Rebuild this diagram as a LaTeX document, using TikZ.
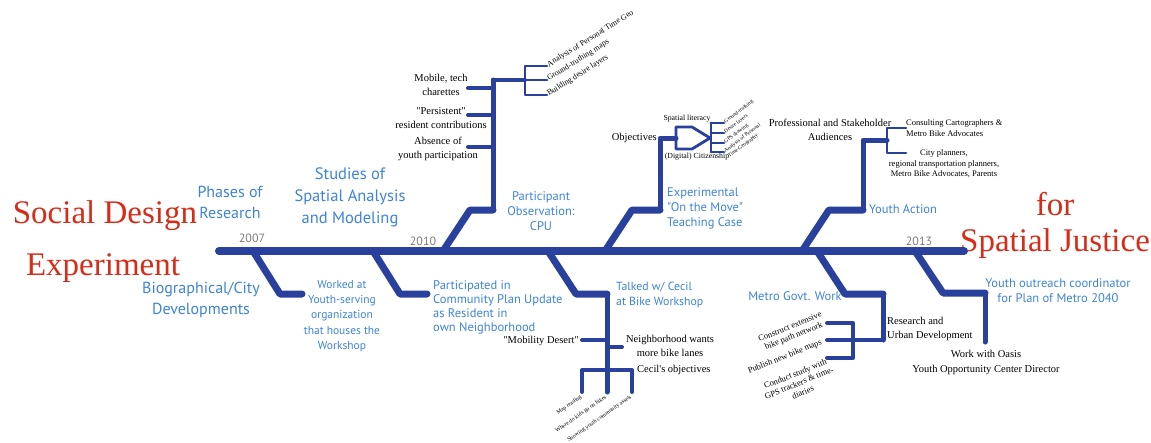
\documentclass[tikz,border=0pt]{standalone}
\usepackage{fontspec}
\setmainfont{Liberation Serif}[Ligatures=TeXOff]
\newfontfamily\ptsans{PT Sans}
\usetikzlibrary{positioning}
\definecolor{bonecol}{RGB}{41,64,156}
\definecolor{phasecol}{RGB}{62,132,218}
\definecolor{titlecol}{RGB}{214,44,24}
\definecolor{yearcol}{RGB}{125,125,125}
\tikzset{spine/.style={line width=8pt, draw=bonecol, line cap=round, line join=round},
         bone/.style={line width=7pt, draw=bonecol, line cap=round, line join=round},
         stem/.style={line width=5pt, draw=bonecol, line cap=round, line join=round},
         twig/.style={line width=4pt, draw=bonecol, line cap=round, line join=round},
         sprig/.style={line width=2.8pt, draw=bonecol, line cap=round, line join=round},
         headline/.style={text=titlecol, inner sep=0pt, font=\fontsize{33}{36}\selectfont},
         phase/.style={text=phasecol, inner sep=0pt, align=center, font=\ptsans\fontsize{16}{21}\selectfont},
         event/.style={text=phasecol, inner sep=0pt, align=center, font=\ptsans\fontsize{12.5}{15}\selectfont},
         yearlbl/.style={text=yearcol, inner sep=0pt, font=\ptsans\fontsize{12}{14}\selectfont},
         note/.style={inner sep=0pt, align=center, font=\fontsize{10.5}{14}\selectfont},
         smallnote/.style={inner sep=0pt, align=center, font=\fontsize{8.5}{10.5}\selectfont},
         leaf/.style={inner sep=1pt, align=center, font=\fontsize{8}{9.5}\selectfont},
         tinynote/.style={inner sep=1pt, align=left, font=\fontsize{5.7}{6.7}\selectfont}}

\begin{document}
\begin{tikzpicture}[x=1pt, y=-1pt]
\fill[white] (0,0) rectangle (1151,442);
\useasboundingbox (0,0) rectangle (1151,442);

\node[headline] (social) at (105,216) {Social Design};
\node[headline] (experiment) at (103,268) {Experiment};
\node[headline] (for) at (1055,204) {for};
\node[headline] (justice) at (1055,244) {Spatial Justice};

\coordinate (s0) at (219,251);
\coordinate (s1) at (964,251);
\draw[spine] (s0) -- (s1);
\node[yearlbl] (y2007) at (252,238) {2007};
\node[yearlbl] (y2010) at (423,241) {2010};
\node[yearlbl] (y2013) at (919,241) {2013};

\node[phase] (phases) at (230,202) {Phases of\\Research};
\node[phase, font=\ptsans\fontsize{16.5}{22}\selectfont] (studies) at (350,197) {Studies of\\Spatial Analysis\\and Modeling};
\node[phase] (bio) at (201,300) {Biographical/City\\Developments};

% upper bones
\coordinate (a0) at (443,251);
\coordinate (a1) at (470,210);
\coordinate (a2) at (493,210);
\coordinate (a3) at (493,80);
\coordinate (a4) at (525,80);
\draw[bone] (a0) -- (a1) -- (a2);
\draw[stem] (a2) -- (a3);
\draw[twig] (a3) -- (a4);
\coordinate (a5) at (547,66);
\coordinate (a6) at (547,80);
\coordinate (a7) at (547,95);
\draw[sprig] (a5) -| (a4) |- (a7);
\draw[sprig] (a4) -- (a6);
\node[leaf, rotate=32, anchor=west] (geo) at (a5) {Analysis of Personal Time Geo};
\node[leaf, rotate=32, anchor=west] (truth) at (a6) {Ground-truthing maps};
\node[leaf, rotate=32, anchor=west] (desire) at (a7) {Building desire layers};
\coordinate (t1) at (468,88);
\coordinate (t2) at (468,115);
\coordinate (t3) at (468,147);
\draw[twig] (t1) -- (a3 |- t1);
\draw[twig] (t2) -- (a3 |- t2);
\draw[twig] (t3) -- (a3 |- t3);
\node[note] (mobile) at (441,85) {Mobile, tech\\charettes};
\node[note] (persist) at (441,118) {"Persistent"\\resident contributions};
\node[note] (absence) at (438,149) {Absence of\\youth participation};
\node[event] (cpu) at (541,211) {Participant\\Observation:\\CPU};

\coordinate (b0) at (605,251);
\coordinate (b1) at (632,210);
\coordinate (b2) at (660,210);
\coordinate (b3) at (660,138);
\coordinate (b4) at (676,138);
\draw[bone] (b0) -- (b1) -- (b2);
\draw[stem] (b2) -- (b3) -- (b4);
\draw[sprig] (b4) ++(0,-11) -- ++(16,0) -- ++(18,11) -- ++(-18,11) -- ++(-16,0) -- cycle;
\draw[sprig] (711,123) -- (711,152);
\foreach \yy/\txt [count=\i] in {123/Ground-truthing, 133/Desire layers, 143/GPS drawing, 152/Analysis of Personal} {
  \coordinate (obj\i) at (724,\yy);
  \draw[sprig] (711,\yy) -- (obj\i);
  \node[tinynote, font=\fontsize{5.3}{6}\selectfont, rotate=37, anchor=west] (objl\i) at (obj\i) {\txt};
}
\node[tinynote, font=\fontsize{5.3}{6}\selectfont, rotate=37, anchor=west, yshift=-6.5pt] (geography) at (obj4) {Time Geography};
\node[note, anchor=east] (objectives) at (657,138) {Objectives};
\node[smallnote, font=\fontsize{7.8}{9}\selectfont] (literacy) at (687,119) {Spatial literacy};
\node[smallnote, font=\fontsize{7.8}{9}\selectfont] (citizen) at (697,157) {(Digital) Citizenship};
\node[event, anchor=west, align=left] (move) at (667,208) {Experimental\\"On the Move"\\Teaching Case};

\coordinate (c0) at (802,251);
\coordinate (c1) at (829,210);
\coordinate (c2) at (863,210);
\coordinate (c3) at (863,140);
\coordinate (c4) at (887,140);
\coordinate (c5) at (906,128);
\coordinate (c6) at (906,153);
\draw[bone] (c0) -- (c1) -- (c2);
\draw[stem] (c2) -- (c3) -- (c4);
\draw[sprig] (c5) -| (c4) |- (c6);
\node[note] (audience) at (830,130) {Professional and Stakeholder\\Audiences};
\node[smallnote, anchor=west, align=left] (consult) at (906,128) {Consulting Cartographers \&\\Metro Bike Advocates};
\node[smallnote] (planners) at (944,164) {City planners,\\regional transportation planners,\\Metro Bike Advocates, Parents};
\node[event, anchor=west] (action) at (869,209) {Youth Action};

% lower bones
\coordinate (d0) at (253,251);
\coordinate (d1) at (280,294);
\coordinate (d2) at (302,294);
\draw[bone] (d0) -- (d1) -- (d2);
\node[event, font=\ptsans\fontsize{11.5}{15.3}\selectfont] (worked) at (342,316) {Worked at\\Youth-serving\\organization\\that houses the\\Workshop};

\coordinate (e0) at (373,251);
\coordinate (e1) at (400,294);
\coordinate (e2) at (427,294);
\draw[bone] (e0) -- (e1) -- (e2);
\node[event, anchor=west, align=left, font=\ptsans\fontsize{12.5}{14}\selectfont] (community) at (433,307) {Participated in\\Community Plan Update\\as Resident in\\own Neighborhood};

\coordinate (f0) at (548,251);
\coordinate (f1) at (576,294);
\coordinate (f2) at (607,294);
\coordinate (f3) at (607,392);
\draw[bone] (f0) -- (f1) -- (f2);
\draw[stem] (f2) -- (f3);
\coordinate (f4) at (582,340);
\coordinate (f5) at (622,347);
\coordinate (f6) at (582,392);
\coordinate (f7) at (632,392);
\coordinate (f8) at (607,370);
\draw[twig] (f4) -- (f2 |- f4);
\draw[twig] (f2 |- f5) -- (f5);
\draw[twig] (f6) |- (f8) -| (f7);
\node[note, anchor=east] (desert) at (579,341) {"Mobility Desert"};
\node[note] (lanes) at (670,346) {Neighborhood wants\\more bike lanes};
\node[note, anchor=west] (cecilobj) at (637,370) {Cecil's objectives};
\node[tinynote, yshift=-4pt, rotate=35, anchor=east] (mapread) at (f6) {Map reading};
\node[tinynote, yshift=-4pt, rotate=35, anchor=east] (kids) at (f3) {Where do kids go on bikes};
\node[tinynote, yshift=-4pt, rotate=35, anchor=east] (assets) at (f7) {Showing youth community assets};
\node[event, anchor=west, align=left, font=\ptsans\fontsize{11.8}{15}\selectfont] (cecil) at (616,295) {Talked w/ Cecil\\at Bike Workshop};

\coordinate (g0) at (817,251);
\coordinate (g1) at (845,294);
\coordinate (g2) at (883,294);
\coordinate (g3) at (883,340);
\coordinate (g4) at (853,340);
\coordinate (g5) at (827,323);
\coordinate (g6) at (827,358);
\coordinate (g7) at (827,340);
\draw[bone] (g0) -- (g1) -- (g2);
\draw[stem] (g2) -- (g3);
\draw[twig] (g3) -- (g4);
\draw[twig] (g5) -| (g4) |- (g6);
\draw[twig] (g4) -- (g7);
\node[leaf, rotate=22, font=\fontsize{8.5}{10}\selectfont] (construct) at (792,332) {Construct extensive\\bike path network};
\node[leaf, rotate=22, font=\fontsize{8.5}{10}\selectfont] (publish) at (785,357) {Publish new bike maps};
\node[leaf, rotate=22, font=\fontsize{8.5}{10}\selectfont] (conduct) at (799,383) {Conduct study with\\GPS trackers \& time-\\diaries};
\node[event] (metro) at (795,296) {Metro Govt. Work};
\node[note, anchor=west, align=left] (research) at (887,329) {Research and\\Urban Development};

\coordinate (h0) at (915,251);
\coordinate (h1) at (943,293);
\coordinate (h2) at (985,293);
\coordinate (h3) at (985,342);
\draw[bone] (h0) -- (h1) -- (h2);
\draw[stem] (h2) -- (h3);
\node[event] (outreach) at (1058,291) {Youth outreach coordinator\\for Plan of Metro 2040};
\node[note, font=\fontsize{10.5}{15}\selectfont] (oasis) at (986,362) {Work with Oasis\\Youth Opportunity Center Director};
\end{tikzpicture}
\end{document}
